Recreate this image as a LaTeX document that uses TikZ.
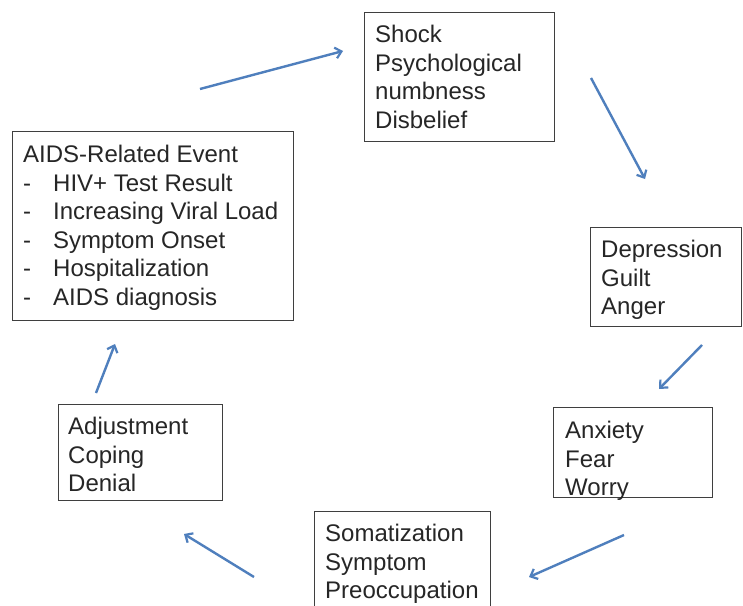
\documentclass[tikz,border=0pt]{standalone}
\usepackage{fontspec}
\setmainfont{Liberation Sans}
\usetikzlibrary{arrows.meta}
\definecolor{arrowblue}{HTML}{4F7FBD}
\definecolor{boxgray}{HTML}{3F3F3F}
\begin{document}
\begin{tikzpicture}[x=1pt,y=-1pt,
  box/.style={draw=boxgray,line width=1.3pt,inner sep=0pt,anchor=north west,fill=white},
  txt/.style={font=\fontsize{24pt}{28.5pt}\selectfont,align=left,inner sep=0pt,anchor=north west,text=black!85},
  flow/.style={draw=arrowblue,line width=2.4pt,-{Straight Barb[length=6pt,width=11pt,line width=2.2pt]}}]
\clip (0,0) rectangle (743,605);
\fill[white] (0,0) rectangle (743,605);
% boxes
\node[box,minimum width=190pt,minimum height=129pt] (shock) at (364,12) {};
\node[box,minimum width=281pt,minimum height=189pt] (aids) at (12,131) {};
\node[box,minimum width=151pt,minimum height=99pt] (depr) at (590,227) {};
\node[box,minimum width=159pt,minimum height=90pt] (anx) at (553,407) {};
\node[box,minimum width=164pt,minimum height=96pt] (adj) at (58,404) {};
\node[box,minimum width=176pt,minimum height=120pt] (soma) at (314,511) {};
% texts
\node[txt] (shockT) at (375,25) {Shock\\Psychological\\numbness\\Disbelief};
\node[txt] (aidsT) at (23,145) {AIDS-Related Event\\
\makebox[30pt][l]{-}HIV+ Test Result\\
\makebox[30pt][l]{-}Increasing Viral Load\\
\makebox[30pt][l]{-}Symptom Onset\\
\makebox[30pt][l]{-}Hospitalization\\
\makebox[30pt][l]{-}AIDS diagnosis};
\node[txt] (deprT) at (601,240) {Depression\\Guilt\\Anger};
\node[txt] (anxT) at (565,421) {Anxiety\\Fear\\Worry};
\node[txt] (adjT) at (68,417) {Adjustment\\Coping\\Denial};
\node[txt] (somaT) at (325,524) {Somatization\\Symptom\\Preoccupation};
% arrow end points
\coordinate (a1s) at (200,89);  \coordinate (a1e) at (343,51);
\coordinate (a2s) at (591,78);  \coordinate (a2e) at (645,179);
\coordinate (a3s) at (702,345); \coordinate (a3e) at (659,389);
\coordinate (a4s) at (624,535); \coordinate (a4e) at (529,577);
\coordinate (a5s) at (254,577); \coordinate (a5e) at (184,534);
\coordinate (a6s) at (96,393);  \coordinate (a6e) at (115,344);
\draw[flow] (a1s) -- (a1e);
\draw[flow] (a2s) -- (a2e);
\draw[flow] (a3s) -- (a3e);
\draw[flow] (a4s) -- (a4e);
\draw[flow] (a5s) -- (a5e);
\draw[flow] (a6s) -- (a6e);
\end{tikzpicture}
\end{document}
